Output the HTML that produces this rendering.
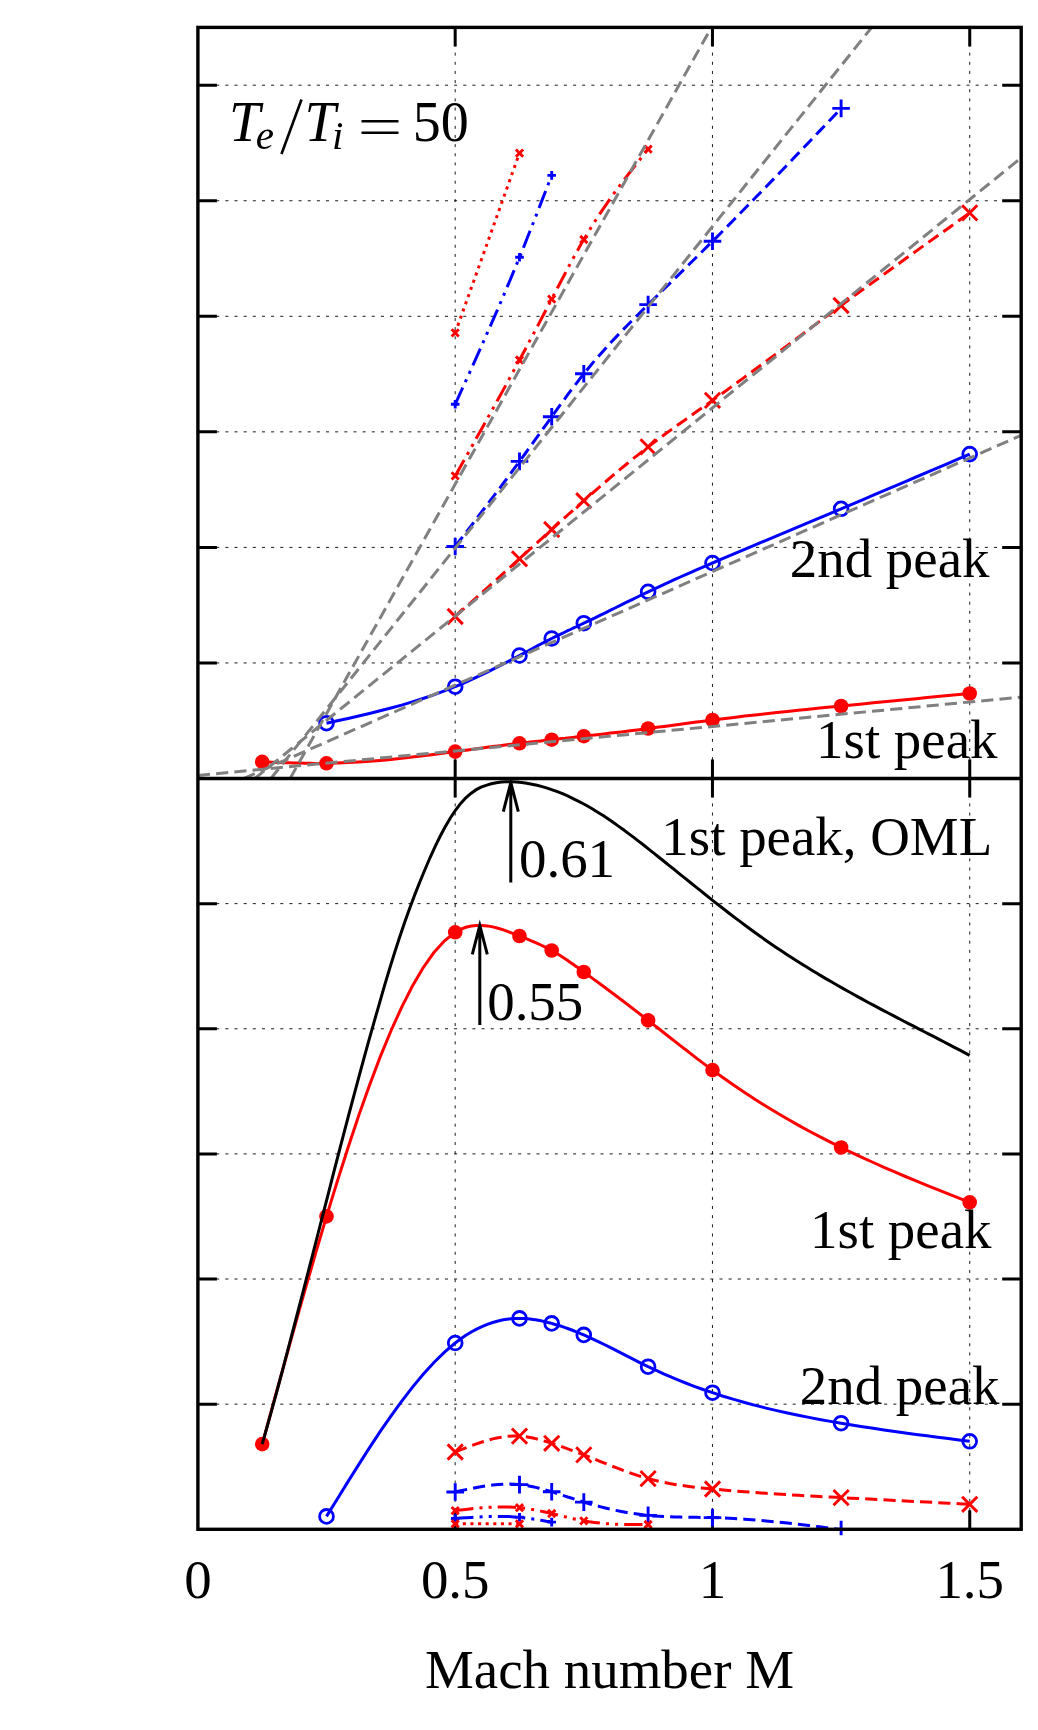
<!DOCTYPE html>
<html><head><meta charset="utf-8"><title>chart</title>
<style>html,body{margin:0;padding:0;background:#fff}svg{display:block}text{font-family:"Liberation Serif",serif;fill:#000}</style></head><body>
<svg width="1038" height="1730" viewBox="0 0 1038 1730">
<rect width="1038" height="1730" fill="#fff"/>
<defs>
<clipPath id="ct"><rect x="197.9" y="27.4" width="823.3" height="751.1"/></clipPath>
<clipPath id="cb"><rect x="197.9" y="778.5" width="823.3" height="756.8"/></clipPath>
<filter id="gs" x="-20%" y="-20%" width="140%" height="140%" color-interpolation-filters="sRGB"><feColorMatrix type="saturate" values="0"/></filter>
</defs>
<g stroke="#000" stroke-width="0.9" fill="none" stroke-dasharray="3.05 6.10">
<path d="M197.9 662.95H1021.2"/>
<path d="M197.9 547.40H1021.2"/>
<path d="M197.9 431.85H1021.2"/>
<path d="M197.9 316.30H1021.2"/>
<path d="M197.9 200.75H1021.2"/>
<path d="M197.9 85.20H1021.2"/>
<path d="M197.9 1404.17H1021.2"/>
<path d="M197.9 1279.03H1021.2"/>
<path d="M197.9 1153.90H1021.2"/>
<path d="M197.9 1028.77H1021.2"/>
<path d="M197.9 903.63H1021.2"/>
<path d="M455.18 778.5V27.4"/>
<path d="M455.18 1529.3V778.5"/>
<path d="M712.46 778.5V27.4"/>
<path d="M712.46 1529.3V778.5"/>
<path d="M969.74 778.5V27.4"/>
<path d="M969.74 1529.3V778.5"/>
</g>
<g stroke="#000" stroke-width="3.0" fill="none" stroke-linecap="butt">
<path d="M197.9 662.95h19.0M1021.2 662.95h-19.0"/>
<path d="M197.9 547.40h19.0M1021.2 547.40h-19.0"/>
<path d="M197.9 431.85h19.0M1021.2 431.85h-19.0"/>
<path d="M197.9 316.30h19.0M1021.2 316.30h-19.0"/>
<path d="M197.9 200.75h19.0M1021.2 200.75h-19.0"/>
<path d="M197.9 85.20h19.0M1021.2 85.20h-19.0"/>
<path d="M197.9 1404.17h19.0M1021.2 1404.17h-19.0"/>
<path d="M197.9 1279.03h19.0M1021.2 1279.03h-19.0"/>
<path d="M197.9 1153.90h19.0M1021.2 1153.90h-19.0"/>
<path d="M197.9 1028.77h19.0M1021.2 1028.77h-19.0"/>
<path d="M197.9 903.63h19.0M1021.2 903.63h-19.0"/>
<path d="M455.18 27.4v19.0M455.18 759.5v38.0M455.18 1529.3v-19.0"/>
<path d="M712.46 27.4v19.0M712.46 759.5v38.0M712.46 1529.3v-19.0"/>
<path d="M969.74 27.4v19.0M969.74 759.5v38.0M969.74 1529.3v-19.0"/>
</g>
<g clip-path="url(#ct)" fill="none">
<path d="M262.2 761.8L267.6 762.0L272.9 762.2L278.3 762.5L283.7 762.7L289.0 762.8L294.4 763.0L299.7 763.1L305.1 763.2L310.5 763.3L315.8 763.4L321.2 763.4L326.5 763.3L337.3 763.1L348.0 762.6L358.7 762.0L369.4 761.3L380.1 760.4L390.9 759.4L401.6 758.2L412.3 757.0L423.0 755.7L433.7 754.4L444.5 753.0L455.2 751.6L460.5 750.9L465.9 750.2L471.3 749.5L476.6 748.7L482.0 748.0L487.3 747.3L492.7 746.6L498.1 745.9L503.4 745.3L508.8 744.6L514.1 743.9L519.5 743.3L522.2 743.0L524.9 742.7L527.5 742.4L530.2 742.1L532.9 741.8L535.6 741.5L538.3 741.2L540.9 740.9L543.6 740.6L546.3 740.3L549.0 740.0L551.7 739.7L554.3 739.4L557.0 739.1L559.7 738.8L562.4 738.5L565.1 738.3L567.7 738.0L570.4 737.7L573.1 737.4L575.8 737.1L578.5 736.8L581.1 736.5L583.8 736.2L589.2 735.6L594.5 735.0L599.9 734.4L605.3 733.8L610.6 733.1L616.0 732.5L621.3 731.9L626.7 731.2L632.1 730.5L637.4 729.9L642.8 729.2L648.1 728.5L653.5 727.8L658.9 727.1L664.2 726.4L669.6 725.7L674.9 724.9L680.3 724.2L685.7 723.5L691.0 722.8L696.4 722.1L701.7 721.4L707.1 720.7L712.5 720.0L723.2 718.7L733.9 717.4L744.6 716.1L755.3 714.9L766.1 713.7L776.8 712.5L787.5 711.4L798.2 710.3L808.9 709.2L819.7 708.1L830.4 707.1L841.1 706.0L851.8 704.9L862.5 703.9L873.3 702.8L884.0 701.8L894.7 700.8L905.4 699.7L916.1 698.7L926.9 697.6L937.6 696.6L948.3 695.6L959.0 694.5L969.7 693.5" stroke="#ff0000" stroke-width="3.0"/>
<circle cx="262.2" cy="761.8" r="7.3" fill="#ff0000"/>
<circle cx="326.5" cy="763.3" r="7.3" fill="#ff0000"/>
<circle cx="455.2" cy="751.6" r="7.3" fill="#ff0000"/>
<circle cx="519.5" cy="743.3" r="7.3" fill="#ff0000"/>
<circle cx="551.7" cy="739.7" r="7.3" fill="#ff0000"/>
<circle cx="583.8" cy="736.2" r="7.3" fill="#ff0000"/>
<circle cx="648.1" cy="728.5" r="7.3" fill="#ff0000"/>
<circle cx="712.5" cy="720.0" r="7.3" fill="#ff0000"/>
<circle cx="841.1" cy="706.0" r="7.3" fill="#ff0000"/>
<circle cx="969.7" cy="693.5" r="7.3" fill="#ff0000"/>
<path d="M326.5 723.2L337.3 720.8L348.0 718.5L358.7 716.0L369.4 713.5L380.1 710.8L390.9 708.0L401.6 705.1L412.3 701.9L423.0 698.5L433.7 694.9L444.5 690.9L455.2 686.7L460.5 684.5L465.9 682.1L471.3 679.7L476.6 677.2L482.0 674.7L487.3 672.1L492.7 669.4L498.1 666.7L503.4 664.0L508.8 661.2L514.1 658.4L519.5 655.5L522.2 654.1L524.9 652.6L527.5 651.2L530.2 649.7L532.9 648.3L535.6 646.9L538.3 645.4L540.9 644.0L543.6 642.6L546.3 641.2L549.0 639.9L551.7 638.5L554.3 637.2L557.0 635.9L559.7 634.6L562.4 633.3L565.1 632.0L567.7 630.7L570.4 629.5L573.1 628.2L575.8 627.0L578.5 625.7L581.1 624.5L583.8 623.2L589.2 620.6L594.5 618.1L599.9 615.4L605.3 612.8L610.6 610.2L616.0 607.5L621.3 604.9L626.7 602.2L632.1 599.6L637.4 597.0L642.8 594.4L648.1 591.8L653.5 589.3L658.9 586.8L664.2 584.3L669.6 581.8L674.9 579.4L680.3 577.0L685.7 574.6L691.0 572.3L696.4 569.9L701.7 567.6L707.1 565.3L712.5 563.0L723.2 558.4L733.9 553.8L744.6 549.3L755.3 544.8L766.1 540.3L776.8 535.8L787.5 531.3L798.2 526.8L808.9 522.3L819.7 517.8L830.4 513.3L841.1 508.8L851.8 504.3L862.5 499.8L873.3 495.2L884.0 490.7L894.7 486.1L905.4 481.6L916.1 477.0L926.9 472.4L937.6 467.8L948.3 463.3L959.0 458.7L969.7 454.1" stroke="#0000ff" stroke-width="3.0"/>
<circle cx="326.5" cy="723.2" r="6.9" fill="none" stroke="#0000ff" stroke-width="2.8"/>
<circle cx="455.2" cy="686.7" r="6.9" fill="none" stroke="#0000ff" stroke-width="2.8"/>
<circle cx="519.5" cy="655.5" r="6.9" fill="none" stroke="#0000ff" stroke-width="2.8"/>
<circle cx="551.7" cy="638.5" r="6.9" fill="none" stroke="#0000ff" stroke-width="2.8"/>
<circle cx="583.8" cy="623.2" r="6.9" fill="none" stroke="#0000ff" stroke-width="2.8"/>
<circle cx="648.1" cy="591.8" r="6.9" fill="none" stroke="#0000ff" stroke-width="2.8"/>
<circle cx="712.5" cy="563.0" r="6.9" fill="none" stroke="#0000ff" stroke-width="2.8"/>
<circle cx="841.1" cy="508.8" r="6.9" fill="none" stroke="#0000ff" stroke-width="2.8"/>
<circle cx="969.7" cy="454.1" r="6.9" fill="none" stroke="#0000ff" stroke-width="2.8"/>
<path d="M455.2 616.5L460.5 611.7L465.9 606.9L471.3 602.2L476.6 597.4L482.0 592.6L487.3 587.8L492.7 583.0L498.1 578.2L503.4 573.3L508.8 568.5L514.1 563.7L519.5 558.8L522.2 556.4L524.9 553.9L527.5 551.5L530.2 549.0L532.9 546.6L535.6 544.1L538.3 541.7L540.9 539.3L543.6 536.8L546.3 534.4L549.0 531.9L551.7 529.5L554.3 527.1L557.0 524.6L559.7 522.2L562.4 519.8L565.1 517.4L567.7 515.0L570.4 512.6L573.1 510.2L575.8 507.8L578.5 505.4L581.1 503.1L583.8 500.7L589.2 496.0L594.5 491.3L599.9 486.6L605.3 482.0L610.6 477.4L616.0 472.9L621.3 468.4L626.7 464.0L632.1 459.6L637.4 455.3L642.8 451.1L648.1 446.9L653.5 442.8L658.9 438.8L664.2 434.8L669.6 430.9L674.9 427.0L680.3 423.2L685.7 419.4L691.0 415.6L696.4 411.8L701.7 408.0L707.1 404.2L712.5 400.4L723.2 392.7L733.9 385.0L744.6 377.1L755.3 369.3L766.1 361.3L776.8 353.4L787.5 345.4L798.2 337.4L808.9 329.4L819.7 321.4L830.4 313.4L841.1 305.5L851.8 297.6L862.5 289.8L873.3 282.0L884.0 274.2L894.7 266.5L905.4 258.8L916.1 251.1L926.9 243.4L937.6 235.8L948.3 228.2L959.0 220.5L969.7 212.9" stroke="#ff0000" stroke-width="3.0" stroke-dasharray="12.20 6.10"/>
<path d="M447.6 608.9L462.8 624.1M447.6 624.1L462.8 608.9" stroke="#ff0000" stroke-width="2.9" fill="none"/>
<path d="M511.9 551.2L527.1 566.4M511.9 566.4L527.1 551.2" stroke="#ff0000" stroke-width="2.9" fill="none"/>
<path d="M544.1 521.9L559.3 537.1M544.1 537.1L559.3 521.9" stroke="#ff0000" stroke-width="2.9" fill="none"/>
<path d="M576.2 493.1L591.4 508.3M576.2 508.3L591.4 493.1" stroke="#ff0000" stroke-width="2.9" fill="none"/>
<path d="M640.5 439.3L655.7 454.5M640.5 454.5L655.7 439.3" stroke="#ff0000" stroke-width="2.9" fill="none"/>
<path d="M704.9 392.8L720.1 408.0M704.9 408.0L720.1 392.8" stroke="#ff0000" stroke-width="2.9" fill="none"/>
<path d="M833.5 297.9L848.7 313.1M833.5 313.1L848.7 297.9" stroke="#ff0000" stroke-width="2.9" fill="none"/>
<path d="M962.1 205.3L977.3 220.5M962.1 220.5L977.3 205.3" stroke="#ff0000" stroke-width="2.9" fill="none"/>
<path d="M455.2 546.5L460.5 539.5L465.9 532.6L471.3 525.6L476.6 518.6L482.0 511.5L487.3 504.5L492.7 497.4L498.1 490.3L503.4 483.2L508.8 476.0L514.1 468.7L519.5 461.4L522.2 457.7L524.9 454.0L527.5 450.3L530.2 446.6L532.9 442.9L535.6 439.2L538.3 435.5L540.9 431.7L543.6 428.0L546.3 424.3L549.0 420.5L551.7 416.8L554.3 413.1L557.0 409.4L559.7 405.7L562.4 402.0L565.1 398.4L567.7 394.7L570.4 391.1L573.1 387.6L575.8 384.1L578.5 380.6L581.1 377.2L583.8 373.8L589.2 367.2L594.5 360.8L599.9 354.7L605.3 348.7L610.6 342.8L616.0 337.1L621.3 331.5L626.7 326.0L632.1 320.5L637.4 315.2L642.8 309.9L648.1 304.6L653.5 299.3L658.9 294.1L664.2 288.8L669.6 283.6L674.9 278.3L680.3 273.1L685.7 267.8L691.0 262.5L696.4 257.2L701.7 252.0L707.1 246.6L712.5 241.3L723.2 230.6L733.9 219.7L744.6 208.8L755.3 197.8L766.1 186.8L776.8 175.7L787.5 164.6L798.2 153.4L808.9 142.2L819.7 130.9L830.4 119.7L841.1 108.4" stroke="#0000ff" stroke-width="3.0" stroke-dasharray="12.20 6.10"/>
<path d="M446.4 546.5L464.0 546.5M455.2 537.7L455.2 555.3" stroke="#0000ff" stroke-width="2.9" fill="none"/>
<path d="M510.7 461.4L528.3 461.4M519.5 452.6L519.5 470.2" stroke="#0000ff" stroke-width="2.9" fill="none"/>
<path d="M542.9 416.8L560.5 416.8M551.7 408.0L551.7 425.6" stroke="#0000ff" stroke-width="2.9" fill="none"/>
<path d="M575.0 373.8L592.6 373.8M583.8 365.0L583.8 382.6" stroke="#0000ff" stroke-width="2.9" fill="none"/>
<path d="M639.3 304.6L656.9 304.6M648.1 295.8L648.1 313.4" stroke="#0000ff" stroke-width="2.9" fill="none"/>
<path d="M703.7 241.3L721.3 241.3M712.5 232.5L712.5 250.1" stroke="#0000ff" stroke-width="2.9" fill="none"/>
<path d="M832.3 108.4L849.9 108.4M841.1 99.6L841.1 117.2" stroke="#0000ff" stroke-width="2.9" fill="none"/>
<path d="M455.2 475.9L460.5 466.4L465.9 456.9L471.3 447.4L476.6 437.8L482.0 428.2L487.3 418.6L492.7 409.0L498.1 399.3L503.4 389.6L508.8 379.8L514.1 369.9L519.5 360.0L522.2 355.0L524.9 350.0L527.5 345.0L530.2 339.9L532.9 334.9L535.6 329.8L538.3 324.7L540.9 319.6L543.6 314.5L546.3 309.4L549.0 304.2L551.7 299.1L554.3 294.0L557.0 288.8L559.7 283.7L562.4 278.6L565.1 273.5L567.7 268.4L570.4 263.5L573.1 258.5L575.8 253.6L578.5 248.8L581.1 244.1L583.8 239.5L589.2 230.5L594.5 222.0L599.9 213.7L605.3 205.8L610.6 198.1L616.0 190.7L621.3 183.5L626.7 176.4L632.1 169.5L637.4 162.7L642.8 155.9L648.1 149.2" stroke="#ff0000" stroke-width="3.0" stroke-dasharray="18.30 6.10 3.05 6.10 3.05 6.10"/>
<path d="M451.6 472.3L458.8 479.5M451.6 479.5L458.8 472.3" stroke="#ff0000" stroke-width="2.9" fill="none"/>
<path d="M515.9 356.4L523.1 363.6M515.9 363.6L523.1 356.4" stroke="#ff0000" stroke-width="2.9" fill="none"/>
<path d="M548.1 295.5L555.3 302.7M548.1 302.7L555.3 295.5" stroke="#ff0000" stroke-width="2.9" fill="none"/>
<path d="M580.2 235.9L587.4 243.1M580.2 243.1L587.4 235.9" stroke="#ff0000" stroke-width="2.9" fill="none"/>
<path d="M644.5 145.6L651.7 152.8M644.5 152.8L651.7 145.6" stroke="#ff0000" stroke-width="2.9" fill="none"/>
<path d="M455.2 404.3L460.5 392.5L465.9 380.7L471.3 368.9L476.6 357.0L482.0 345.0L487.3 332.9L492.7 320.7L498.1 308.4L503.4 295.9L508.8 283.2L514.1 270.4L519.5 257.3L522.2 250.7L524.9 244.0L527.5 237.3L530.2 230.5L532.9 223.7L535.6 216.9L538.3 210.0L540.9 203.1L543.6 196.2L546.3 189.3L549.0 182.3L551.7 175.4" stroke="#0000ff" stroke-width="3.0" stroke-dasharray="18.30 6.10 3.05 6.10 3.05 6.10"/>
<path d="M450.9 404.3L459.5 404.3M455.2 400.0L455.2 408.6" stroke="#0000ff" stroke-width="2.9" fill="none"/>
<path d="M515.2 257.3L523.8 257.3M519.5 253.0L519.5 261.6" stroke="#0000ff" stroke-width="2.9" fill="none"/>
<path d="M547.4 175.4L556.0 175.4M551.7 171.1L551.7 179.7" stroke="#0000ff" stroke-width="2.9" fill="none"/>
<path d="M455.2 332.9L519.5 153.1" stroke="#ff0000" stroke-width="3.0" stroke-dasharray="3.05 4.57"/>
<path d="M451.6 329.3L458.8 336.5M451.6 336.5L458.8 329.3" stroke="#ff0000" stroke-width="2.9" fill="none"/>
<path d="M515.9 149.5L523.1 156.7M515.9 156.7L523.1 149.5" stroke="#ff0000" stroke-width="2.9" fill="none"/>
<path d="M197.9 775.4L1021.2 697.1" stroke="#808080" stroke-width="3.0" stroke-dasharray="12.20 6.10"/>
<path d="M243.6 778.5L1021.2 435.3" stroke="#808080" stroke-width="3.0" stroke-dasharray="12.20 6.10"/>
<path d="M254.7 778.5L1021.2 157.8" stroke="#808080" stroke-width="3.0" stroke-dasharray="12.20 6.10"/>
<path d="M270.9 778.5L871.7 27.4" stroke="#808080" stroke-width="3.0" stroke-dasharray="12.20 6.10"/>
<path d="M290.1 778.5L711.4 27.4" stroke="#808080" stroke-width="3.0" stroke-dasharray="12.20 6.10"/>
</g>
<g clip-path="url(#cb)" fill="none">
<path d="M262.2 1444.1L267.6 1424.6L272.9 1405.0L278.3 1385.5L283.7 1366.1L289.0 1346.8L294.4 1327.6L299.7 1308.6L305.1 1289.7L310.5 1271.0L315.8 1252.6L321.2 1234.4L326.5 1216.4L337.3 1181.4L348.0 1147.7L358.7 1115.6L369.4 1085.4L380.1 1057.1L390.9 1031.0L401.6 1007.3L412.3 986.2L423.0 968.0L433.7 952.8L444.5 940.8L455.2 932.3L460.5 929.4L465.9 927.3L471.3 926.0L476.6 925.4L482.0 925.4L487.3 925.9L492.7 926.9L498.1 928.3L503.4 929.9L508.8 931.8L514.1 933.9L519.5 936.0L522.2 937.1L524.9 938.1L527.5 939.2L530.2 940.3L532.9 941.5L535.6 942.6L538.3 943.8L540.9 945.0L543.6 946.3L546.3 947.6L549.0 949.0L551.7 950.5L554.3 952.0L557.0 953.6L559.7 955.3L562.4 957.0L565.1 958.8L567.7 960.6L570.4 962.4L573.1 964.3L575.8 966.2L578.5 968.1L581.1 970.0L583.8 972.0L589.2 975.9L594.5 979.9L599.9 983.8L605.3 987.8L610.6 991.8L616.0 995.8L621.3 999.8L626.7 1003.9L632.1 1008.0L637.4 1012.1L642.8 1016.2L648.1 1020.4L653.5 1024.6L658.9 1028.8L664.2 1033.0L669.6 1037.2L674.9 1041.4L680.3 1045.6L685.7 1049.8L691.0 1053.9L696.4 1058.1L701.7 1062.1L707.1 1066.1L712.5 1070.1L723.2 1077.8L733.9 1085.3L744.6 1092.5L755.3 1099.5L766.1 1106.2L776.8 1112.7L787.5 1119.0L798.2 1125.1L808.9 1131.0L819.7 1136.7L830.4 1142.2L841.1 1147.5L851.8 1152.7L862.5 1157.7L873.3 1162.5L884.0 1167.3L894.7 1171.9L905.4 1176.5L916.1 1180.9L926.9 1185.3L937.6 1189.6L948.3 1193.9L959.0 1198.2L969.7 1202.4" stroke="#ff0000" stroke-width="3.0"/>
<circle cx="262.2" cy="1444.1" r="7.3" fill="#ff0000"/>
<circle cx="326.5" cy="1216.4" r="7.3" fill="#ff0000"/>
<circle cx="455.2" cy="932.3" r="7.3" fill="#ff0000"/>
<circle cx="519.5" cy="936.0" r="7.3" fill="#ff0000"/>
<circle cx="551.7" cy="950.5" r="7.3" fill="#ff0000"/>
<circle cx="583.8" cy="972.0" r="7.3" fill="#ff0000"/>
<circle cx="648.1" cy="1020.4" r="7.3" fill="#ff0000"/>
<circle cx="712.5" cy="1070.1" r="7.3" fill="#ff0000"/>
<circle cx="841.1" cy="1147.5" r="7.3" fill="#ff0000"/>
<circle cx="969.7" cy="1202.4" r="7.3" fill="#ff0000"/>
<path d="M326.5 1516.4L337.3 1499.0L348.0 1481.6L358.7 1464.6L369.4 1447.9L380.1 1431.7L390.9 1416.1L401.6 1401.3L412.3 1387.4L423.0 1374.5L433.7 1362.7L444.5 1352.2L455.2 1343.0L460.5 1339.0L465.9 1335.3L471.3 1332.0L476.6 1329.1L482.0 1326.6L487.3 1324.4L492.7 1322.5L498.1 1321.0L503.4 1319.8L508.8 1319.0L514.1 1318.5L519.5 1318.4L522.2 1318.4L524.9 1318.6L527.5 1318.8L530.2 1319.1L532.9 1319.4L535.6 1319.8L538.3 1320.3L540.9 1320.8L543.6 1321.4L546.3 1322.0L549.0 1322.7L551.7 1323.4L554.3 1324.2L557.0 1325.0L559.7 1325.8L562.4 1326.7L565.1 1327.6L567.7 1328.5L570.4 1329.5L573.1 1330.5L575.8 1331.6L578.5 1332.6L581.1 1333.8L583.8 1334.9L589.2 1337.3L594.5 1339.8L599.9 1342.3L605.3 1345.0L610.6 1347.7L616.0 1350.4L621.3 1353.2L626.7 1355.9L632.1 1358.7L637.4 1361.4L642.8 1364.1L648.1 1366.7L653.5 1369.2L658.9 1371.7L664.2 1374.1L669.6 1376.4L674.9 1378.7L680.3 1380.9L685.7 1383.0L691.0 1385.1L696.4 1387.1L701.7 1389.0L707.1 1390.9L712.5 1392.7L723.2 1396.2L733.9 1399.4L744.6 1402.5L755.3 1405.4L766.1 1408.1L776.8 1410.6L787.5 1413.0L798.2 1415.3L808.9 1417.4L819.7 1419.4L830.4 1421.4L841.1 1423.2L851.8 1425.0L862.5 1426.7L873.3 1428.3L884.0 1429.9L894.7 1431.4L905.4 1432.9L916.1 1434.4L926.9 1435.8L937.6 1437.2L948.3 1438.6L959.0 1439.9L969.7 1441.3" stroke="#0000ff" stroke-width="3.0"/>
<circle cx="326.5" cy="1516.4" r="6.9" fill="none" stroke="#0000ff" stroke-width="2.8"/>
<circle cx="455.2" cy="1343.0" r="6.9" fill="none" stroke="#0000ff" stroke-width="2.8"/>
<circle cx="519.5" cy="1318.4" r="6.9" fill="none" stroke="#0000ff" stroke-width="2.8"/>
<circle cx="551.7" cy="1323.4" r="6.9" fill="none" stroke="#0000ff" stroke-width="2.8"/>
<circle cx="583.8" cy="1334.9" r="6.9" fill="none" stroke="#0000ff" stroke-width="2.8"/>
<circle cx="648.1" cy="1366.7" r="6.9" fill="none" stroke="#0000ff" stroke-width="2.8"/>
<circle cx="712.5" cy="1392.7" r="6.9" fill="none" stroke="#0000ff" stroke-width="2.8"/>
<circle cx="841.1" cy="1423.2" r="6.9" fill="none" stroke="#0000ff" stroke-width="2.8"/>
<circle cx="969.7" cy="1441.3" r="6.9" fill="none" stroke="#0000ff" stroke-width="2.8"/>
<path d="M455.2 1452.0L460.5 1449.9L465.9 1447.8L471.3 1445.7L476.6 1443.8L482.0 1442.0L487.3 1440.4L492.7 1438.9L498.1 1437.8L503.4 1436.9L508.8 1436.2L514.1 1436.0L519.5 1436.1L522.2 1436.3L524.9 1436.6L527.5 1437.0L530.2 1437.5L532.9 1438.0L535.6 1438.6L538.3 1439.3L540.9 1440.0L543.6 1440.8L546.3 1441.6L549.0 1442.4L551.7 1443.3L554.3 1444.2L557.0 1445.1L559.7 1446.0L562.4 1446.9L565.1 1447.9L567.7 1448.8L570.4 1449.8L573.1 1450.8L575.8 1451.8L578.5 1452.8L581.1 1453.9L583.8 1454.9L589.2 1457.0L594.5 1459.1L599.9 1461.3L605.3 1463.4L610.6 1465.6L616.0 1467.7L621.3 1469.7L626.7 1471.7L632.1 1473.6L637.4 1475.4L642.8 1477.0L648.1 1478.6L653.5 1480.0L658.9 1481.3L664.2 1482.4L669.6 1483.5L674.9 1484.4L680.3 1485.3L685.7 1486.0L691.0 1486.7L696.4 1487.4L701.7 1487.9L707.1 1488.5L712.5 1489.0L723.2 1490.0L733.9 1490.9L744.6 1491.7L755.3 1492.5L766.1 1493.3L776.8 1494.0L787.5 1494.6L798.2 1495.3L808.9 1495.9L819.7 1496.5L830.4 1497.0L841.1 1497.6L851.8 1498.2L862.5 1498.7L873.3 1499.3L884.0 1499.8L894.7 1500.4L905.4 1501.0L916.1 1501.5L926.9 1502.1L937.6 1502.6L948.3 1503.2L959.0 1503.7L969.7 1504.3" stroke="#ff0000" stroke-width="3.0" stroke-dasharray="12.20 6.10"/>
<path d="M447.6 1444.4L462.8 1459.6M447.6 1459.6L462.8 1444.4" stroke="#ff0000" stroke-width="2.9" fill="none"/>
<path d="M511.9 1428.5L527.1 1443.7M511.9 1443.7L527.1 1428.5" stroke="#ff0000" stroke-width="2.9" fill="none"/>
<path d="M544.1 1435.7L559.3 1450.9M544.1 1450.9L559.3 1435.7" stroke="#ff0000" stroke-width="2.9" fill="none"/>
<path d="M576.2 1447.3L591.4 1462.5M576.2 1462.5L591.4 1447.3" stroke="#ff0000" stroke-width="2.9" fill="none"/>
<path d="M640.5 1471.0L655.7 1486.2M640.5 1486.2L655.7 1471.0" stroke="#ff0000" stroke-width="2.9" fill="none"/>
<path d="M704.9 1481.4L720.1 1496.6M704.9 1496.6L720.1 1481.4" stroke="#ff0000" stroke-width="2.9" fill="none"/>
<path d="M833.5 1490.0L848.7 1505.2M833.5 1505.2L848.7 1490.0" stroke="#ff0000" stroke-width="2.9" fill="none"/>
<path d="M962.1 1496.7L977.3 1511.9M962.1 1511.9L977.3 1496.7" stroke="#ff0000" stroke-width="2.9" fill="none"/>
<path d="M455.2 1492.0L460.5 1490.8L465.9 1489.6L471.3 1488.5L476.6 1487.5L482.0 1486.5L487.3 1485.7L492.7 1485.0L498.1 1484.5L503.4 1484.2L508.8 1484.1L514.1 1484.2L519.5 1484.6L522.2 1484.9L524.9 1485.3L527.5 1485.7L530.2 1486.2L532.9 1486.8L535.6 1487.4L538.3 1488.0L540.9 1488.7L543.6 1489.4L546.3 1490.2L549.0 1491.0L551.7 1491.8L554.3 1492.6L557.0 1493.5L559.7 1494.3L562.4 1495.2L565.1 1496.1L567.7 1497.0L570.4 1497.8L573.1 1498.7L575.8 1499.6L578.5 1500.4L581.1 1501.3L583.8 1502.1L589.2 1503.7L594.5 1505.2L599.9 1506.6L605.3 1508.0L610.6 1509.3L616.0 1510.4L621.3 1511.5L626.7 1512.5L632.1 1513.4L637.4 1514.1L642.8 1514.8L648.1 1515.4L653.5 1515.9L658.9 1516.2L664.2 1516.5L669.6 1516.8L674.9 1516.9L680.3 1517.1L685.7 1517.2L691.0 1517.2L696.4 1517.3L701.7 1517.4L707.1 1517.5L712.5 1517.6L723.2 1518.0L733.9 1518.5L744.6 1519.2L755.3 1520.0L766.1 1520.9L776.8 1522.0L787.5 1523.1L798.2 1524.3L808.9 1525.5L819.7 1526.8L830.4 1528.2L841.1 1529.5" stroke="#0000ff" stroke-width="3.0" stroke-dasharray="12.20 6.10"/>
<path d="M446.4 1492.0L464.0 1492.0M455.2 1483.2L455.2 1500.8" stroke="#0000ff" stroke-width="2.9" fill="none"/>
<path d="M510.7 1484.6L528.3 1484.6M519.5 1475.8L519.5 1493.4" stroke="#0000ff" stroke-width="2.9" fill="none"/>
<path d="M542.9 1491.8L560.5 1491.8M551.7 1483.0L551.7 1500.6" stroke="#0000ff" stroke-width="2.9" fill="none"/>
<path d="M575.0 1502.1L592.6 1502.1M583.8 1493.3L583.8 1510.9" stroke="#0000ff" stroke-width="2.9" fill="none"/>
<path d="M639.3 1515.4L656.9 1515.4M648.1 1506.6L648.1 1524.2" stroke="#0000ff" stroke-width="2.9" fill="none"/>
<path d="M703.7 1517.6L721.3 1517.6M712.5 1508.8L712.5 1526.4" stroke="#0000ff" stroke-width="2.9" fill="none"/>
<path d="M832.3 1529.5L849.9 1529.5M841.1 1520.7L841.1 1538.3" stroke="#0000ff" stroke-width="2.9" fill="none"/>
<path d="M455.2 1510.6L460.5 1510.0L465.9 1509.4L471.3 1508.8L476.6 1508.3L482.0 1507.8L487.3 1507.4L492.7 1507.1L498.1 1507.0L503.4 1506.9L508.8 1507.0L514.1 1507.3L519.5 1507.7L522.2 1508.0L524.9 1508.3L527.5 1508.7L530.2 1509.1L532.9 1509.6L535.6 1510.0L538.3 1510.5L540.9 1511.1L543.6 1511.7L546.3 1512.3L549.0 1512.9L551.7 1513.5L554.3 1514.1L557.0 1514.8L559.7 1515.5L562.4 1516.1L565.1 1516.8L567.7 1517.4L570.4 1518.1L573.1 1518.7L575.8 1519.3L578.5 1519.9L581.1 1520.4L583.8 1520.9L589.2 1521.8L594.5 1522.5L599.9 1523.1L605.3 1523.6L610.6 1523.9L616.0 1524.2L621.3 1524.4L626.7 1524.5L632.1 1524.5L637.4 1524.5L642.8 1524.5L648.1 1524.5" stroke="#ff0000" stroke-width="3.0" stroke-dasharray="18.30 6.10 3.05 6.10 3.05 6.10"/>
<path d="M451.6 1507.0L458.8 1514.2M451.6 1514.2L458.8 1507.0" stroke="#ff0000" stroke-width="2.9" fill="none"/>
<path d="M515.9 1504.1L523.1 1511.3M515.9 1511.3L523.1 1504.1" stroke="#ff0000" stroke-width="2.9" fill="none"/>
<path d="M548.1 1509.9L555.3 1517.1M548.1 1517.1L555.3 1509.9" stroke="#ff0000" stroke-width="2.9" fill="none"/>
<path d="M580.2 1517.3L587.4 1524.5M580.2 1524.5L587.4 1517.3" stroke="#ff0000" stroke-width="2.9" fill="none"/>
<path d="M644.5 1520.9L651.7 1528.1M644.5 1528.1L651.7 1520.9" stroke="#ff0000" stroke-width="2.9" fill="none"/>
<path d="M455.2 1518.5L460.5 1518.1L465.9 1517.7L471.3 1517.4L476.6 1517.0L482.0 1516.8L487.3 1516.5L492.7 1516.4L498.1 1516.4L503.4 1516.4L508.8 1516.6L514.1 1516.9L519.5 1517.3L522.2 1517.6L524.9 1517.9L527.5 1518.2L530.2 1518.6L532.9 1519.0L535.6 1519.4L538.3 1519.8L540.9 1520.2L543.6 1520.7L546.3 1521.2L549.0 1521.6L551.7 1522.1" stroke="#0000ff" stroke-width="3.0" stroke-dasharray="18.30 6.10 3.05 6.10 3.05 6.10"/>
<path d="M450.9 1518.5L459.5 1518.5M455.2 1514.2L455.2 1522.8" stroke="#0000ff" stroke-width="2.9" fill="none"/>
<path d="M515.2 1517.3L523.8 1517.3M519.5 1513.0L519.5 1521.6" stroke="#0000ff" stroke-width="2.9" fill="none"/>
<path d="M547.4 1522.1L556.0 1522.1M551.7 1517.8L551.7 1526.4" stroke="#0000ff" stroke-width="2.9" fill="none"/>
<path d="M455.2 1523.8L519.5 1523.8" stroke="#ff0000" stroke-width="3.0" stroke-dasharray="3.05 4.57"/>
<path d="M451.6 1520.2L458.8 1527.4M451.6 1527.4L458.8 1520.2" stroke="#ff0000" stroke-width="2.9" fill="none"/>
<path d="M515.9 1520.2L523.1 1527.4M515.9 1527.4L523.1 1520.2" stroke="#ff0000" stroke-width="2.9" fill="none"/>
<path d="M262.2 1444.1L267.3 1426.0L272.4 1407.6L277.5 1389.0L282.6 1370.0L287.6 1350.9L292.7 1331.5L297.8 1312.0L302.9 1292.4L308.0 1272.6L313.1 1252.8L318.2 1233.0L323.3 1213.2L328.4 1193.4L333.4 1173.6L338.5 1154.0L343.6 1134.4L348.7 1115.0L353.8 1095.9L358.9 1076.9L364.0 1058.2L369.1 1039.7L374.2 1021.6L379.3 1003.8L384.3 986.4L389.4 969.4L394.5 953.0L399.6 937.2L404.7 922.2L409.8 907.9L414.9 894.4L420.0 881.5L425.1 869.2L430.1 857.5L435.2 846.4L440.3 836.0L445.4 826.4L450.5 817.7L455.6 810.0L460.7 803.4L465.8 797.8L470.9 793.4L475.9 789.9L481.0 787.2L486.1 785.3L491.2 783.8L496.3 782.8L501.4 782.1L506.5 781.8L511.6 781.7L516.7 782.0L521.7 782.5L526.8 783.2L531.9 784.2L537.0 785.3L542.1 786.6L547.2 788.1L552.3 789.8L557.4 791.7L562.5 793.7L567.6 795.9L572.6 798.3L577.7 800.8L582.8 803.5L587.9 806.3L593.0 809.2L598.1 812.4L603.2 815.6L608.3 819.0L613.4 822.5L618.4 826.1L623.5 829.8L628.6 833.6L633.7 837.4L638.8 841.4L643.9 845.3L649.0 849.4L654.1 853.4L659.2 857.5L664.2 861.5L669.3 865.6L674.4 869.7L679.5 873.8L684.6 877.9L689.7 882.0L694.8 886.1L699.9 890.2L705.0 894.2L710.1 898.3L715.1 902.3L720.2 906.3L725.3 910.2L730.4 914.2L735.5 918.1L740.6 921.9L745.7 925.7L750.8 929.5L755.9 933.2L760.9 936.8L766.0 940.4L771.1 943.9L776.2 947.4L781.3 950.8L786.4 954.2L791.5 957.5L796.6 960.7L801.7 964.0L806.7 967.1L811.8 970.2L816.9 973.3L822.0 976.4L827.1 979.4L832.2 982.3L837.3 985.2L842.4 988.1L847.5 991.0L852.5 993.8L857.6 996.6L862.7 999.4L867.8 1002.2L872.9 1004.9L878.0 1007.6L883.1 1010.3L888.2 1013.0L893.3 1015.7L898.4 1018.3L903.4 1021.0L908.5 1023.6L913.6 1026.2L918.7 1028.9L923.8 1031.5L928.9 1034.1L934.0 1036.7L939.1 1039.4L944.2 1042.0L949.2 1044.6L954.3 1047.3L959.4 1049.9L964.5 1052.6L969.6 1055.3" stroke="#000" stroke-width="3.0"/>
</g>
<path d="M510.8 882.6V782.6M503.3 811.6L510.8 782.6L518.3 811.6" stroke="#000" stroke-width="3.0" fill="none" stroke-linejoin="miter" stroke-miterlimit="10"/>
<path d="M479.8 1025.0V925.4M472.3 954.4L479.8 925.4L487.3 954.4" stroke="#000" stroke-width="3.0" fill="none" stroke-linejoin="miter" stroke-miterlimit="10"/>
<g stroke="#000" stroke-width="3.4" fill="none" stroke-linecap="butt">
<rect x="197.9" y="27.4" width="823.3" height="1501.9" stroke-linejoin="miter"/>
<path d="M197.9 778.5H1021.2"/>
</g>
<g font-size="54.9">
<text x="197.9" y="1597.5" text-anchor="middle">0</text>
<text x="455.2" y="1597.5" text-anchor="middle">0.5</text>
<text x="712.5" y="1597.5" text-anchor="middle">1</text>
<text x="969.7" y="1597.5" text-anchor="middle">1.5</text>
<text x="609.5" y="1688" text-anchor="middle">Mach number M</text>
<text x="989.5" y="576.5" text-anchor="end">2nd peak</text>
<text x="997.5" y="757.5" text-anchor="end">1st peak</text>
<text x="992.2" y="854.8" text-anchor="end">1st peak, OML</text>
<text x="991.5" y="1248.2" text-anchor="end">1st peak</text>
<text x="999.5" y="1404" text-anchor="end">2nd peak</text>
<text x="519" y="876.6">0.61</text>
<text x="487.2" y="1019.7">0.55</text>
<text x="229.1" y="140.9" font-style="italic" font-size="56.0">T</text>
<text x="255.8" y="148.7" font-style="italic" font-size="41" filter="url(#gs)">e</text>
<text x="304.6" y="140.9" font-style="italic" font-size="56.0">T</text>
<text x="332" y="149.3" font-style="italic" font-size="41" filter="url(#gs)">i</text>
<text x="412.8" y="140.9" font-size="56.0">50</text>
</g>
<path d="M281.5 154L301.5 99.5" stroke="#000" stroke-width="2.6" fill="none"/>
<path d="M361.5 121.3H398.5M361.5 132.7H398.5" stroke="#000" stroke-width="2.4" fill="none"/>
</svg></body></html>
